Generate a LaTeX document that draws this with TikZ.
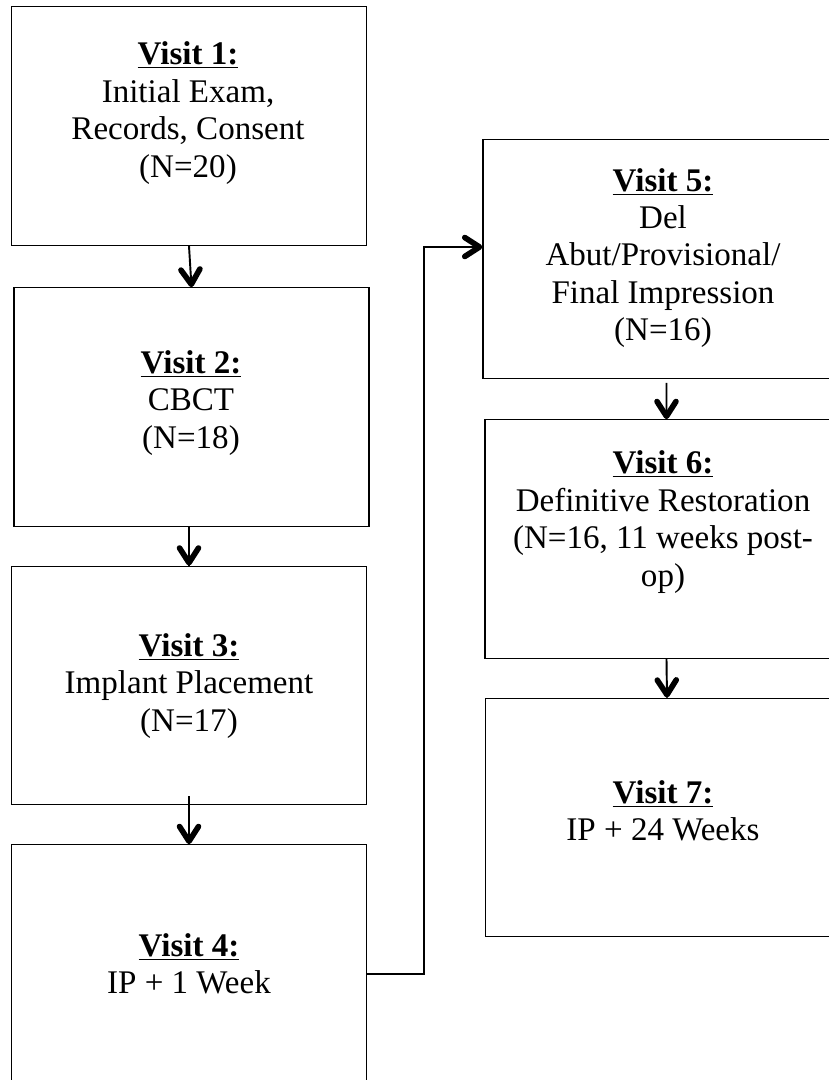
\documentclass[tikz,border=0pt]{standalone}
\usepackage{fontspec}
\setmainfont{Liberation Serif}
\usetikzlibrary{decorations.markings}

\begin{document}
\begin{tikzpicture}[x=0.02cm,y=-0.02cm,
  box/.style={draw,line width=0.8pt,minimum width=7.1cm,minimum height=4.77cm,inner sep=0pt},
  txt/.style={align=center,font=\fontsize{18.8}{21.3}\selectfont},
  chev/.style={postaction={decorate,decoration={markings,mark=at position 1 with
    {\draw[line width=3.2pt,line cap=round,line join=round] (-10pt,5.4pt) -- (-1.6pt,0pt) -- (-10pt,-5.4pt);}}}},
  flow/.style={line width=1.1pt,chev},
  link/.style={line width=0.7pt,chev}]
\useasboundingbox (0,0) rectangle (829,1080);
\clip (0,0) rectangle (829,1080);
% left column
\node[box] (v1) at (189,126) {};
\node[box] (v2) at (191.5,407) {};
\node[box] (v3) at (189,685.5) {};
\node[box] (v4) at (189,964) {};
\node[txt] (t1) at (188,113) {\underline{\textbf{Visit 1:}}\\Initial Exam,\\Records, Consent\\(N=20)};
\node[txt] (t2) at (191,403) {\underline{\textbf{Visit 2:}}\\CBCT\\(N=18)};
\node[txt] (t3) at (189,686) {\underline{\textbf{Visit 3:}}\\Implant Placement\\(N=17)};
\node[txt] (t4) at (189,964) {\underline{\textbf{Visit 4:}}\\IP + 1 Week};
% right column
\node[box] (v5) at (660.5,259) {};
\node[box] (v6) at (662.5,539) {};
\node[box] (v7) at (663,817.5) {};
\node[txt] (t5) at (663,258) {\underline{\textbf{Visit 5:}}\\Del\\Abut/Provisional/\\Final Impression\\(N=16)};
\node[txt] (t6) at (663,522) {\underline{\textbf{Visit 6:}}\\Definitive Restoration\\(N=16, 11 weeks post-\\op)};
\node[txt] (t7) at (663,811) {\underline{\textbf{Visit 7:}}\\IP + 24 Weeks};
% arrows
\draw[flow] (v1.south) -- (v2.north);
\draw[flow] (v2.south -| v3.north) -- (v3.north);
\draw[flow] ([yshift=0.18cm]v3.south) -- (v4.north);
\draw[flow] ([xshift=0.12cm,yshift=-0.08cm]v5.south) -- ([xshift=0.08cm]v6.north);
\draw[flow] ([xshift=0.08cm]v6.south) -- ([xshift=0.08cm]v7.north);
\coordinate (bend) at (424,247);
\draw[link] ([yshift=-0.2cm]v4.east) -| (bend) -- (bend -| v5.west);
\end{tikzpicture}
\end{document}
